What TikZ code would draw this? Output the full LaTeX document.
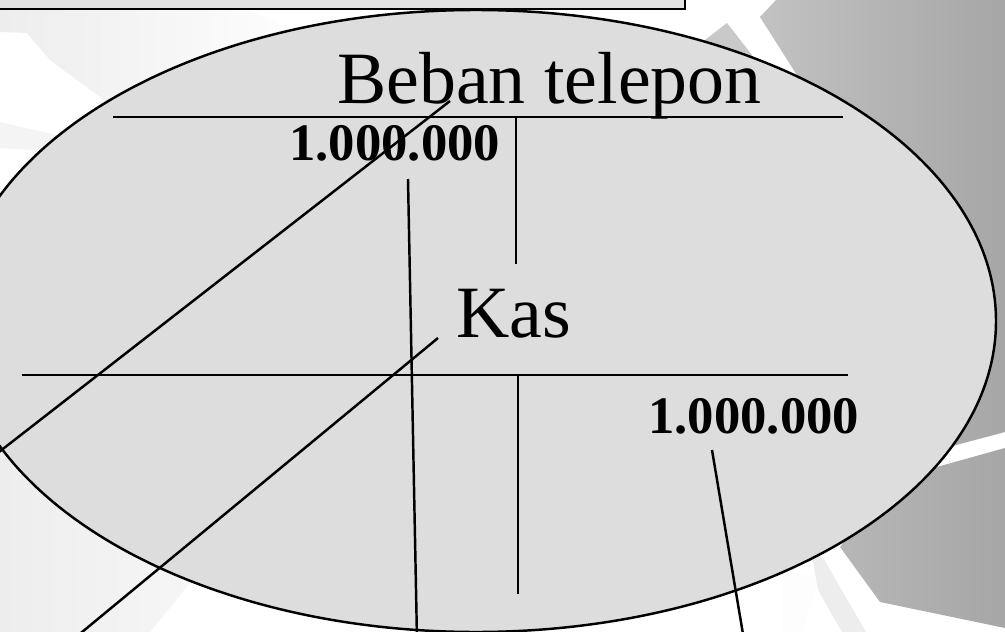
\documentclass[tikz,border=0pt]{standalone}
\usepackage{fontspec}
\setmainfont{Liberation Serif}
\definecolor{oval}{HTML}{DDDDDD}
\definecolor{boxfill}{HTML}{E2E2E2}
\definecolor{darkbg}{HTML}{A6A6A6}
\definecolor{midbg}{HTML}{C2C2C2}
\definecolor{spike}{HTML}{C9C9C9}
\definecolor{pale}{HTML}{EDEDED}
\tikzset{
  tline/.style={line width=1.4pt},
  acct/.style={font=\fontsize{42}{50}\selectfont,inner sep=0pt,anchor=base west},
  amt/.style={font=\bfseries\fontsize{30}{36}\selectfont,inner sep=0pt,anchor=base west}
}
\begin{document}
\begin{tikzpicture}[x=0.02cm,y=-0.02cm]
\useasboundingbox (0,0) rectangle (1005,632);
\clip (0,0) rectangle (1005,632);
\fill[white] (0,0) rectangle (1005,632);
\shade[left color=pale,right color=white] (0,8)--(240,8)--(262,16)--(290,30)--(330,60)--(200,200)--(100,97)--(50,60)--(27,33)--(0,32)--cycle;
\fill[pale!60] (0,122)--(60,136)--(60,152)--(0,148)--cycle;
\shade[left color=pale,right color=pale!40] (0,420)--(230,540)--(190,583)--(150,632)--(0,632)--cycle;
\fill[pale!90!black!5] (782,570)--(818,578)--(803,632)--(782,632)--cycle;
\fill[pale] (812,556)--(822,556)--(866,632)--(842,632)--(818,590)--cycle;
\shade[left color=midbg,right color=darkbg] (776,0)--(1005,0)--(1005,432)--(900,460)--(760,200)--(800,80)--(760,17)--cycle;
\shade[left color=midbg!60!darkbg,right color=darkbg] (1005,448)--(1005,628)--(880,602)--(840,547)--(890,480)--cycle;
\fill[spike] (727,23)--(705,40)--(720,120)--(752,55)--cycle;
\draw[tline,fill=boxfill] (-10,-10) rectangle (685,9);
\draw[tline,fill=oval] (476,321) ellipse [x radius=520,y radius=311];
\draw[tline] (113,117)--(843,117) (516,117)--(516,264);
\draw[tline] (22,375)--(848,375) (518,375)--(518,594);
\node[acct] (beban) at (337,103) {Beban telepon};
\node[amt] (bebanDr) at (289,160) {1.000.000};
\node[acct] (kas) at (456,337) {Kas};
\node[amt] (kasCr) at (648,433) {1.000.000};
\coordinate (c1a) at (450,101);
\coordinate (c1b) at (-10,459);
\coordinate (c2a) at (438,338);
\coordinate (c2b) at (70,642);
\coordinate (c3a) at (408,179);
\coordinate (c3b) at (417,640);
\coordinate (c4a) at (712,450);
\coordinate (c4b) at (744,640);
\draw[tline] (c1a)--(c1b);
\draw[tline] (c2a)--(c2b);
\draw[tline] (c3a)--(c3b);
\draw[tline] (c4a)--(c4b);
\end{tikzpicture}
\end{document}
